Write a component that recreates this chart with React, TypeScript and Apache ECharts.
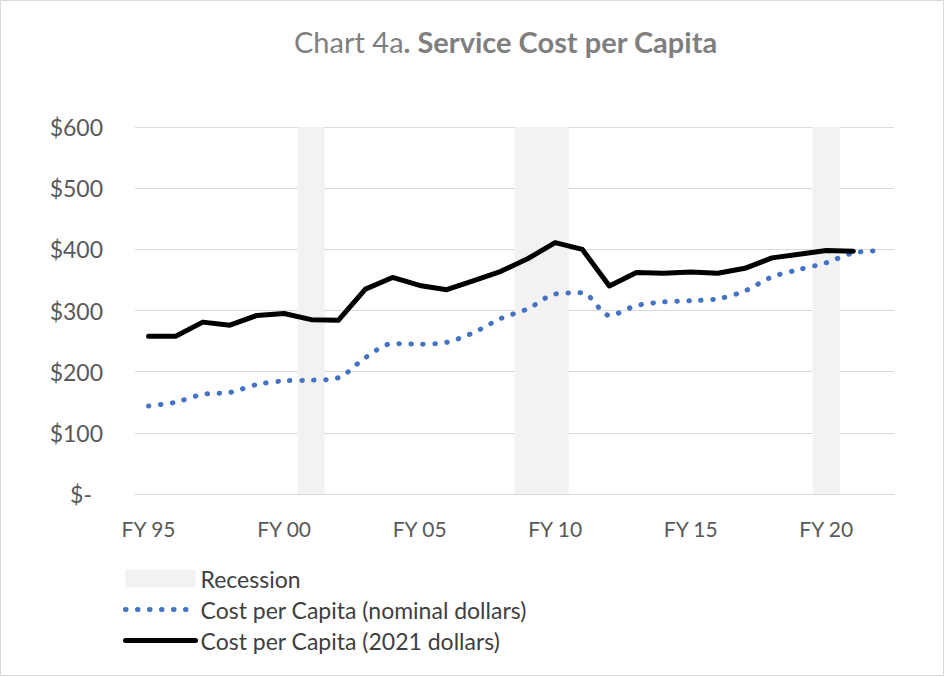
import React, { useEffect, useRef } from "react";
import * as echarts from "echarts";

const categories = [
  "FY 95", "FY 96", "FY 97", "FY 98", "FY 99", "FY 00", "FY 01", "FY 02", "FY 03", "FY 04",
  "FY 05", "FY 06", "FY 07", "FY 08", "FY 09", "FY 10", "FY 11", "FY 12", "FY 13", "FY 14",
  "FY 15", "FY 16", "FY 17", "FY 18", "FY 19", "FY 20", "FY 21", "FY 22",
];

const nominal = [
  144, 150, 163, 166, 179, 185, 186, 190, 223, 246,
  245, 248, 264, 287, 303, 327, 329, 292, 308, 314,
  316, 319, 332, 355, 367, 378, 394, 398,
];

const real2021 = [
  258, 258, 281, 276, 292, 295, 285, 284, 335, 354,
  341, 334, 349, 364, 385, 411, 400, 340, 362, 361,
  363, 361, 369, 386, 392, 398, 397, null,
];

const recessionYears = ["FY 01", "FY 09", "FY 10", "FY 20"];
const recessionHeight = 600;
const recession = categories.map((c) => (recessionYears.includes(c) ? recessionHeight : null));

const FONT = "Lato, 'Liberation Sans', sans-serif";
const DOTS = [0.5, 11.5];

export default function App() {
  const ref = useRef<HTMLDivElement>(null);
  useEffect(() => {
    if (!ref.current) return;
    const chart = echarts.init(ref.current, null, { renderer: "svg" });
    chart.setOption({
      animation: false,
      backgroundColor: "#ffffff",
      textStyle: { fontFamily: FONT },
      title: {
        left: 294,
        top: 27,
        padding: 0,
        text: "{a|Chart 4a}{b|. Service Cost per Capita}",
        textStyle: {
          rich: {
            a: { fontSize: 29, color: "#7f7f7f", fontWeight: "normal", fontFamily: FONT },
            b: { fontSize: 29, color: "#7f7f7f", fontWeight: "bold", fontFamily: FONT },
          },
        },
      },
      graphic: [
        {
          type: "rect",
          shape: { x: 0.5, y: 0.5, width: 943, height: 675 },
          style: { fill: "none", stroke: "#d9d9d9", lineWidth: 1 },
          silent: true,
        },
      ],
      grid: { left: 135, right: 51, top: 127, bottom: 183, containLabel: false },
      legend: {
        orient: "vertical",
        left: 123,
        top: 567,
        padding: 0,
        itemWidth: 70,
        itemHeight: 18,
        itemGap: 8,
        textStyle: { fontSize: 23, color: "#404040", fontFamily: FONT },
        data: [
          { name: "Recession", icon: "rect" },
          {
            name: "Cost per Capita (nominal dollars)",
            itemStyle: { opacity: 0, color: "rgba(0,0,0,0)", borderWidth: 0 },
            lineStyle: { width: 5, color: "#4472c4", type: DOTS, cap: "round" },
          },
          {
            name: "Cost per Capita (2021 dollars)",
            itemStyle: { opacity: 0, color: "rgba(0,0,0,0)", borderWidth: 0 },
            lineStyle: { width: 5, color: "#000000", cap: "round" },
          },
        ],
      },
      xAxis: {
        type: "category",
        data: categories,
        boundaryGap: true,
        axisLine: { lineStyle: { color: "#d9d9d9", width: 1 } },
        axisTick: { show: false },
        axisLabel: {
          interval: 4,
          fontSize: 21,
          color: "#595959",
          margin: 24,
          fontFamily: FONT,
        },
      },
      yAxis: {
        type: "value",
        min: 0,
        max: 600,
        interval: 100,
        axisLine: { show: false },
        axisTick: { show: false },
        splitLine: { lineStyle: { color: "#d9d9d9", width: 1 } },
        axisLabel: {
          margin: 32,
          formatter: (v: number) => (v === 0 ? "{z|$-}" : "{n|$" + v + "}"),
          rich: {
            n: { fontSize: 23, color: "#595959", fontFamily: FONT },
            z: { fontSize: 23, color: "#595959", fontFamily: FONT, padding: [0, 11, 0, 0] },
          },
        },
      },
      series: [
        {
          name: "Recession",
          type: "bar",
          data: recession,
          barWidth: "100%",
          itemStyle: { color: "#f2f2f2" },
          silent: true,
          z: 1,
        },
        {
          name: "Cost per Capita (nominal dollars)",
          type: "line",
          data: nominal,
          symbol: "none",
          smooth: 0.3,
          lineStyle: { color: "#4472c4", width: 5, type: DOTS, cap: "round" },
          itemStyle: { color: "#4472c4" },
          z: 3,
        },
        {
          name: "Cost per Capita (2021 dollars)",
          type: "line",
          data: real2021,
          symbol: "none",
          lineStyle: { color: "#000000", width: 5, cap: "round", join: "round" },
          itemStyle: { color: "#000000" },
          z: 4,
        },
      ],
    });
    return () => chart.dispose();
  }, []);
  return (
    <div
      ref={ref}
      style={{ position: "fixed", left: 0, top: 0, width: 945, height: 677 }}
    />
  );
}
